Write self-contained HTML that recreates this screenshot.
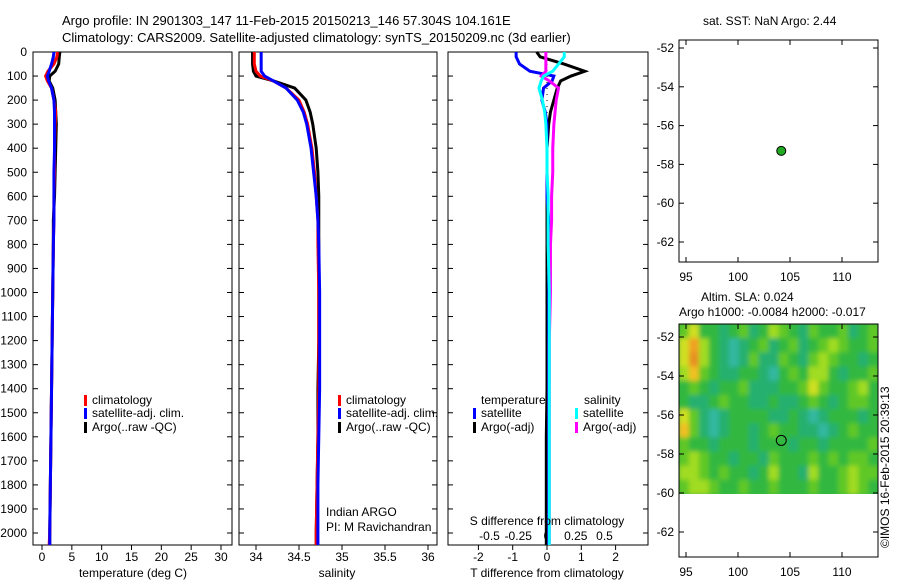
<!DOCTYPE html>
<html><head><meta charset="utf-8"><style>
body{margin:0;background:#fff;}
svg text{font-family:"Liberation Sans",sans-serif;font-size:12px;fill:#000;}
</style></head><body>
<svg id="c" width="900" height="580" xmlns="http://www.w3.org/2000/svg">
<defs><filter id="bl" x="0" y="0" width="1" height="1"><feGaussianBlur stdDeviation="2.5"/></filter>
<clipPath id="mc"><rect x="679" y="324" width="199" height="170"/></clipPath></defs>
<text x="62" y="25" style="font-size:13px">Argo profile: IN 2901303_147 11-Feb-2015 20150213_146 57.304S 104.161E</text>
<text x="62" y="42" style="font-size:13px">Climatology: CARS2009. Satellite-adjusted climatology: synTS_20150209.nc (3d earlier)</text>
<text x="703" y="25">sat. SST: NaN Argo: 2.44</text>
<text x="701" y="301">Altim. SLA: 0.024</text>
<text x="679" y="316">Argo h1000: -0.0084 h2000: -0.017</text>
<text transform="translate(889,548) rotate(-90)">©IMOS 16-Feb-2015 20:39:13</text>
<g id="heat" clip-path="url(#mc)"><g id="heatb" filter="url(#bl)"></g></g>
<g id="g"></g>
</svg>
<script>
const depths=[0,20,50,80,100,120,150,200,250,300,400,500,600,700,800,1000,1200,1400,1600,1800,2000,2050];
const tempClim=[2.6,2.5,2.0,1.0,0.6,0.9,1.6,2.0,2.3,2.2,2.1,2.1,2.0,2.0,1.9,1.8,1.7,1.6,1.5,1.4,1.3,1.2];
const tempSat=[2.0,1.9,1.6,1.2,0.9,1.1,1.6,2.0,2.1,2.1,2.1,2.0,2.0,2.0,1.9,1.8,1.7,1.6,1.5,1.4,1.3,1.3];
const tempArgo=[3.0,2.9,2.8,2.2,1.3,1.2,1.8,2.2,2.3,2.4,2.3,2.2,2.1,1.9,1.9,1.8,1.7,1.6,1.5,1.4,1.3,1.3];
const salClim=[33.98,33.98,33.98,34.0,34.05,34.2,34.35,34.5,34.56,34.6,34.65,34.68,34.7,34.72,34.72,34.73,34.73,34.73,34.72,34.71,34.7,34.7];
const salSat=[34.06,34.06,34.06,34.06,34.1,34.2,34.35,34.48,34.55,34.59,34.64,34.67,34.7,34.72,34.73,34.74,34.74,34.74,34.73,34.72,34.72,34.72];
const salArgo=[33.96,33.96,33.96,33.97,34.0,34.2,34.45,34.58,34.63,34.66,34.7,34.72,34.73,34.73,34.73,34.73,34.73,34.72,34.72,34.71,34.7,34.7];
const dTsat=[-0.9,-0.9,-0.8,-0.5,0.2,0.15,-0.1,-0.15,-0.05,0.0,0.0,0.0,0.0,0.05,0.05,0.05,0.05,0.05,0.05,0.05,0.05,0.05];
const dTargo=[-0.3,-0.2,0.5,1.1,0.7,0.4,0.3,0.2,0.1,0.05,0.0,0.0,0.0,0.0,0.0,0.0,0.0,0.0,-0.02,-0.02,-0.02,-0.02];
const dSsat=[0.15,0.15,0.1,0.05,-0.03,-0.05,-0.07,-0.04,-0.02,-0.01,0.0,0.0,0.01,0.01,0.01,0.02,0.02,0.02,0.02,0.02,0.02,0.02];
const dSargo=[-0.01,-0.01,-0.01,-0.01,-0.05,0.02,0.1,0.08,0.07,0.06,0.05,0.05,0.04,0.04,0.03,0.03,0.02,0.02,0.02,0.02,0.02,0.02];
const tTicks=[0,5,10,15,20,25,30];
const sTicks=[34,34.5,35,35.5,36];
const dTicks=[-2,-1,0,1,2];
const dsTicks=[-0.5,-0.25,0,0.25,0.5];
const zTicks=[0,100,200,300,400,500,600,700,800,900,1000,1100,1200,1300,1400,1500,1600,1700,1800,1900,2000];
const lonTicks=[95,100,105,110];
const latTicks=[-52,-54,-56,-58,-60,-62];
const argoLon=104.161, argoLat=-57.304;
const slaGrid=[
[3,5,2,2,1,2,3,1,2,4,3,2,1,3,2,2,3,1,2,3],
[5,7,4,2,1,0,1,2,3,1,2,3,1,2,3,4,3,2,2,3],
[5,8,4,2,1,0,1,3,1,1,3,2,1,3,4,3,2,2,1,2],
[4,6,3,2,1,1,2,2,1,0,2,3,2,4,4,2,1,2,2,3],
[2,3,2,1,2,2,3,1,1,1,2,2,3,5,3,2,2,3,4,2],
[2,1,1,2,3,2,2,1,1,2,1,1,2,3,2,1,2,3,3,2],
[5,3,1,0,1,2,2,2,2,1,1,2,1,0,1,2,2,2,1,2],
[6,3,1,0,1,2,2,1,2,3,2,2,1,1,0,1,2,3,2,2],
[3,2,2,1,2,2,2,1,2,2,2,1,2,2,1,2,2,2,2,3],
[3,4,3,2,2,1,2,2,1,3,2,2,2,3,2,3,2,3,3,2],
[4,4,3,2,3,2,2,1,2,4,2,2,1,4,2,2,3,4,3,3],
[3,4,4,3,2,2,3,2,2,3,2,2,2,3,2,2,3,4,3,2]];
const slaColors=["#30b8a0","#28b070","#30b840","#60c828","#a0dc20","#d0e020","#f0c020","#f0a020","#e89020"];
const NS='http://www.w3.org/2000/svg';
const g=document.getElementById('g');
function el(t,a,p){const e=document.createElementNS(NS,t);for(const k in a)e.setAttribute(k,a[k]);(p||g).appendChild(e);return e;}
const yz=d=>52+d*(481/2000);
const FB=545;
function panel(x0,x1,name,xs,ticks){
  const f=el('rect',{x:x0,y:52,width:x1-x0,height:FB-52,fill:'none',stroke:'#000'});
  
  
  ticks.forEach(t=>{const x=xs(t);el('line',{x1:x,x2:x,y1:FB,y2:FB+5,stroke:'#000'});
    const tx=el('text',{x:x,y:561,'text-anchor':'middle'});tx.textContent=t;
    
    });
  zTicks.forEach(z=>{const y=yz(z);el('line',{x1:x0,x2:x0+5,y1:y,y2:y,stroke:'#000'});el('line',{x1:x1,x2:x1-5,y1:y,y2:y,stroke:'#000'});});
}
function line(xs,vals,col,name,w){
  const p=el('polyline',{points:vals.map((v,i)=>xs(v)+','+yz(depths[i])).join(' '),fill:'none',stroke:col,'stroke-width':w||3});
  
  
}
const xt=v=>42+v*(179/30);
panel(33,232,'temperature',xt,tTicks);
zTicks.forEach(z=>{const t=el('text',{x:27,y:yz(z)+4,'text-anchor':'end'});t.textContent=z;
  
  });
line(xt,tempArgo,'#000','temp-argo');line(xt,tempClim,'#f00','temp-clim');line(xt,tempSat,'#00f','temp-sat');
const xl=el('text',{x:133,y:577,'text-anchor':'middle'});xl.textContent='temperature (deg C)';

const xsal=v=>256+(v-34)*86;
panel(239,437,'salinity',xsal,sTicks);
line(xsal,salArgo,'#000','sal-argo');line(xsal,salClim,'#f00','sal-clim');line(xsal,salSat,'#00f','sal-sat');
const sl=el('text',{x:337,y:577,'text-anchor':'middle'});sl.textContent='salinity';

const xd=v=>547+v*34.3;
const xds=v=>547+v*115;
panel(448,648,'difference',xd,dTicks);
dsTicks.forEach(t=>{const tx=el('text',{x:xds(t),y:540,'text-anchor':'middle'});tx.textContent=t;
  });
el('line',{x1:xd(0),x2:xd(0),y1:52,y2:530,stroke:'#000','stroke-dasharray':'1,5'});
line(xd,dTargo,'#000','dT-argo');line(xd,dTsat,'#00f','dT-sat');
line(xds,dSargo,'#f0f','dS-argo');line(xds,dSsat,'#0ff','dS-sat');
let t1=el('text',{x:547,y:525,'text-anchor':'middle'});t1.textContent='S difference from climatology';
let t2=el('text',{x:547,y:577,'text-anchor':'middle'});t2.textContent='T difference from climatology';
function leg(x,y,col,txt,nm){const r=el('rect',{x:x,y:y-9,width:3,height:11,fill:col});
  const t=el('text',{x:x+8,y:y});t.textContent=txt;}
leg(84,404,'#f00','climatology','legend-clim');leg(84,417,'#00f','satellite-adj. clim.','legend-sat');leg(84,431,'#000','Argo(..raw -QC)','legend-argo');
leg(338,404,'#f00','climatology','legend-clim-2');leg(338,417,'#00f','satellite-adj. clim.','legend-sat-2');leg(338,431,'#000','Argo(..raw -QC)','legend-argo-2');
let a=el('text',{x:481,y:404});a.textContent='temperature';let b=el('text',{x:584,y:404});b.textContent='salinity';
leg(473,417,'#00f','satellite','legend-t-sat');leg(473,431,'#000','Argo(-adj)','legend-t-argo');
leg(575,417,'#0ff','satellite','legend-s-sat');leg(575,431,'#f0f','Argo(-adj)','legend-s-argo');
let c=el('text',{x:326,y:516});c.textContent='Indian ARGO';let d=el('text',{x:326,y:531});d.textContent='PI: M Ravichandran';
function mapFrame(y0,y1,lat0,latStep,name){
  const lx=v=>686+(v-95)*10.4;
  const ly=v=>lat0+(-52-v)*latStep;
  const f=el('rect',{x:679,y:y0,width:199,height:y1-y0,fill:'none',stroke:'#000'});
  
  lonTicks.forEach(t=>{const x=lx(t);el('line',{x1:x,x2:x,y1:y1,y2:y1-5,stroke:'#000'});el('line',{x1:x,x2:x,y1:y0,y2:y0+5,stroke:'#000'});
    const tx=el('text',{x:x,y:y1+19,'text-anchor':'middle'});tx.textContent=t;});
  latTicks.forEach(t=>{const y=ly(t);el('line',{x1:679,x2:684,y1:y,y2:y,stroke:'#000'});el('line',{x1:878,x2:873,y1:y,y2:y,stroke:'#000'});
    const tx=el('text',{x:674,y:y+4,'text-anchor':'end'});tx.textContent=t;});
  return [lx,ly];
}
const hb=document.getElementById('heatb');
const rows=slaGrid.length, cols=slaGrid[0].length, cw=199/cols, ch=170/rows;
el('rect',{x:669,y:314,width:219,height:190,fill:slaColors[2]},hb);
slaGrid.forEach((r,i)=>r.forEach((v,j)=>{const cell=el('rect',{x:679+j*cw,y:324+i*ch,width:cw+0.5,height:ch+0.5,fill:slaColors[v]},hb);
  }));
const [lx1,ly1]=mapFrame(40,262,48,19.4,'sst-map');
const dot=el('circle',{cx:lx1(argoLon),cy:ly1(argoLat),r:4.5,fill:'#2a2',stroke:'#000'});

const [lx2,ly2]=mapFrame(324,557,337,19.5,'sla-map');
const dot2=el('circle',{cx:lx2(argoLon),cy:ly2(argoLat),r:5,fill:'none',stroke:'#000'});

</script>
</body></html>
